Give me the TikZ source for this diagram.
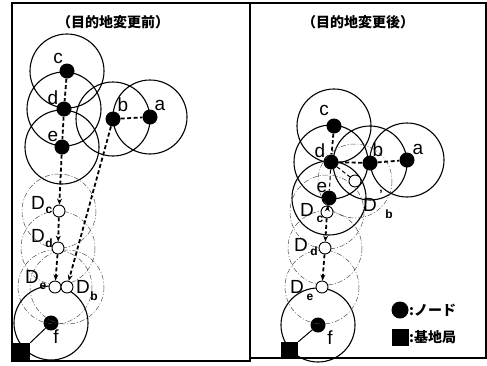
\documentclass[tikz,border=0pt]{standalone}
\usepackage{fontspec}
\setmainfont{Liberation Sans}
\newfontfamily\jp{Noto Sans CJK JP}
\usetikzlibrary{arrows.meta}
\tikzset{
  nodedot/.style={circle, fill=black, minimum size=15pt, inner sep=0pt},
  ghost/.style={circle, draw, line width=0.9pt, fill=white, minimum size=12pt, inner sep=0pt},
  cover/.style={line width=1.1pt},
  ghostcover/.style={line width=0.5pt, black!70, dash pattern=on 5pt off 2pt on 1pt off 2pt},
  route/.style={line width=1.8pt, dash pattern=on 4pt off 2.5pt},
  hop/.style={route, -{Stealth[length=6pt,width=5pt]}},
  lbl/.style={font=\fontsize{19}{19}\selectfont, inner sep=0pt},
  subtxt/.style={font=\fontsize{12}{12}\selectfont\bfseries, inner sep=0pt},
  paneltitle/.style={font=\jp\bfseries\fontsize{14}{14}\selectfont, inner sep=0pt},
  keytext/.style={font=\jp\bfseries\fontsize{14}{14}\selectfont, inner sep=0pt, anchor=west},
  basest/.style={fill=black, minimum size=17pt, inner sep=0pt}
}
\begin{document}
\begin{tikzpicture}[x=1pt, y=-1pt]
\useasboundingbox (0,0) rectangle (487,365);
% panel frames
\draw[line width=2pt] (12,3) rectangle (250,361);
\draw[line width=2pt] (250,3) rectangle (486,358);

% ---------------- before the destination change ----------------
\node[paneltitle] (t1) at (113,22) {（目的地変更前）};
\node[nodedot] (c1) at (67,71) {};
\node[nodedot] (d1) at (64,109) {};
\node[nodedot] (e1) at (62,147) {};
\node[nodedot] (b1) at (113,119) {};
\node[nodedot] (a1) at (150,117) {};
\node[nodedot] (f1) at (51,323) {};
\node[basest] (s1) at (21.5,351.5) {};
\foreach \n in {c1,d1,e1,b1,a1,f1} \draw[cover] (\n) circle (37);
% moved positions and their ranges
\coordinate (Dcp1) at (59,211);
\coordinate (Ddp1) at (58,248);
\coordinate (Dep1) at (55,287);
\coordinate (Dbp1) at (67,287);
\foreach \n in {Dcp1,Ddp1,Dep1,Dbp1} \draw[ghostcover] (\n) circle (37);
\node[ghost] (Dc1) at (Dcp1) {};
\node[ghost] (Dd1) at (Ddp1) {};
\node[ghost] (De1) at (Dep1) {};
\node[ghost] (Db1) at (Dbp1) {};
% routes
\draw[route] (c1) -- (d1);
\draw[route] (d1) -- (e1);
\draw[route] (b1) -- (a1);
\draw[hop] (e1) -- (Dc1);
\draw[hop] (Dc1) -- (Dd1);
\draw[hop] (Dd1) -- (De1);
\draw[hop] (b1) -- (Db1);
\draw[line width=1pt] (s1.north east) -- (f1);
% labels
\node[lbl] (lc1) at (58,58) {c};
\node[lbl] (ld1) at (53,98) {d};
\node[lbl] (le1) at (53,136) {e};
\node[lbl] (lb1) at (123,105) {b};
\node[lbl] (la1) at (160,105) {a};
\node[lbl] (lf1) at (56,337) {f};
\node[lbl] (lDc1) at (38,203) {D};
\node[subtxt] (sDc1) at (49,210) {c};
\node[lbl] (lDd1) at (38,236) {D};
\node[subtxt] (sDd1) at (49,243) {d};
\node[lbl] (lDe1) at (32,277) {D};
\node[subtxt] (sDe1) at (43,286) {e};
\node[lbl] (lDb1) at (83,287) {D};
\node[subtxt] (sDb1) at (94,296) {b};

% ---------------- after the destination change ----------------
\node[paneltitle] (t2) at (358,22) {（目的地変更後）};
\node[nodedot] (c2) at (334,126) {};
\node[nodedot] (d2) at (331,162) {};
\node[nodedot] (b2) at (370,163) {};
\node[nodedot] (a2) at (407,160) {};
\node[nodedot] (e2) at (329,198) {};
\node[nodedot] (f2) at (318,325) {};
\node[basest] (s2) at (289.5,350.5) {};
\foreach \n in {c2,d2,b2,a2,e2,f2} \draw[cover] (\n) circle (37);
\coordinate (Dcp2) at (327,212);
\coordinate (Ddp2) at (325,248);
\coordinate (Dep2) at (322,287);
\coordinate (Dbp2) at (355,181);
\foreach \n in {Dcp2,Ddp2,Dep2,Dbp2} \draw[ghostcover] (\n) circle (37);
\node[ghost] (Dc2) at (Dcp2) {};
\node[ghost] (Dd2) at (Ddp2) {};
\node[ghost] (De2) at (Dep2) {};
\node[ghost] (Db2) at (Dbp2) {};
\draw[route] (c2) -- (d2);
\draw[route] (d2) -- (b2);
\draw[route] (b2) -- (a2);
\draw[route, line width=1pt] (d2) -- (e2);
\draw[route, line width=1pt] (d2) -- (Db2);
\draw[hop] (e2) -- (Dc2);
\draw[hop] (Dc2) -- (Dd2);
\draw[hop] (Dd2) -- (De2);
\draw[line width=1pt] (s2.north east) -- (f2);
\node[lbl] (lc2) at (324,110) {c};
\node[lbl] (ld2) at (320,151) {d};
\node[lbl] (lb2) at (378,150) {b};
\node[lbl] (la2) at (418,149) {a};
\node[lbl] (le2) at (322,187) {e};
\node[lbl] (lf2) at (330,338) {f};
\node[lbl] (lDc2) at (307,210) {D};
\node[subtxt] (sDc2) at (320,219) {c};
\node[lbl] (lDd2) at (301,245) {D};
\node[subtxt] (sDd2) at (314,251) {d};
\node[lbl] (lDe2) at (297,287) {D};
\node[subtxt] (sDe2) at (310,297) {e};
\node[lbl] (lDb2) at (370,205) {D};
\node[subtxt] (pDb2) at (381,194) {'};
\node[subtxt] (sDb2) at (389,214) {b};

% legend
\node[nodedot, minimum size=17pt] (kn) at (400,310) {};
\node[keytext] (kt) at (409,310) {:ノード};
\node[basest] (ks) at (400,337) {};
\node[keytext] (kbt) at (409,337) {:基地局};
\end{tikzpicture}
\end{document}
